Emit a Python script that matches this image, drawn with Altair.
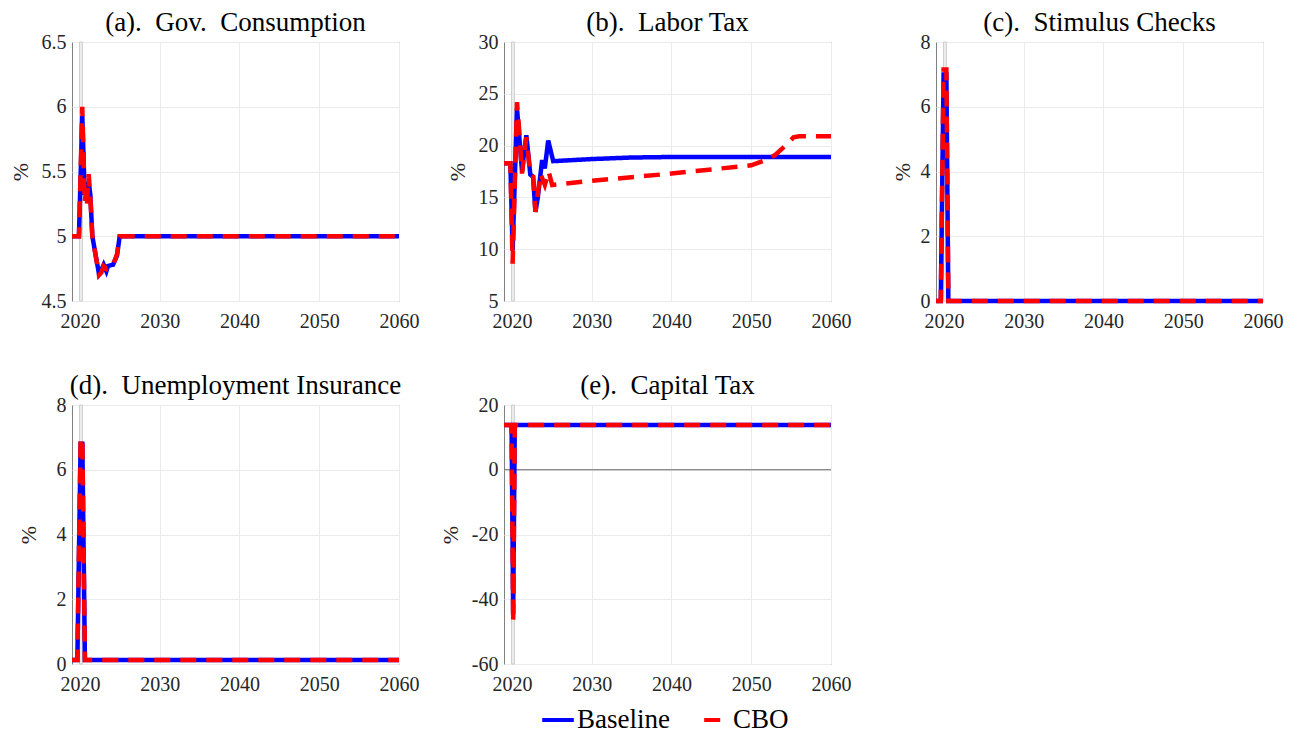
import altair as alt
import pandas as pd

PLOT_W, PLOT_H = 327, 259
SERIF = "Liberation Serif"

x_domain = [2019, 2060]
x_ticks = [2020, 2030, 2040, 2050, 2060]
band_start = [2019.95]
band_end = [2020.3]

# (a) Gov. Consumption
gov_years = [2019, 2019.87, 2020.29, 2020.59, 2020.79, 2020.88, 2021.09, 2021.3, 2021.55,
             2022.38, 2022.68, 2022.97, 2023.31, 2023.51, 2024.14, 2024.64, 2024.98, 2060]
gov_baseline = [5.0, 5.0, 5.93, 5.32, 5.4, 5.27, 5.42, 5.32, 5.0,
                4.71, 4.74, 4.78, 4.73, 4.77, 4.78, 4.85, 5.0, 5.0]
gov_cbo = [5.0, 5.0, 6.0, 5.26, 5.36, 5.25, 5.48, 5.3, 5.0,
           4.7, 4.72, 4.77, 4.75, 4.77, 4.78, 4.86, 5.0, 5.0]

# (b) Labor Tax
labor_years_base = [2019, 2019.8, 2020.08, 2020.63, 2021.26, 2021.47, 2021.8, 2022.3, 2022.65,
                    2022.94, 2023.24, 2023.78, 2024.12, 2024.54, 2025.17, 2030, 2035, 2040, 2060]
labor_baseline = [18.3, 18.3, 9.9, 23.6, 17.5, 19.0, 21.0, 17.2, 17.0,
                  13.6, 15.0, 18.6, 17.8, 20.5, 18.5, 18.7, 18.85, 18.9, 18.9]
labor_years_cbo = [2019, 2019.8, 2020.08, 2020.63, 2020.95, 2021.26, 2021.8, 2022.3, 2022.65,
                   2022.94, 2023.57, 2024.12, 2024.6, 2025.04, 2030, 2040, 2050, 2052,
                   2053, 2054.3, 2055.3, 2056, 2060]
labor_cbo = [18.3, 18.3, 8.6, 24.2, 21.0, 17.3, 20.8, 17.2, 17.0,
             13.6, 17.3, 16.2, 17.5, 16.2, 16.6, 17.3, 18.1, 18.65,
             19.1, 20.0, 20.8, 20.9, 20.9]

# (c) Stimulus Checks
stim_years = [2019, 2019.6, 2019.95, 2020.3, 2020.55, 2060]
stim_baseline = [0, 0, 7.0, 7.0, 0, 0]
stim_cbo = [0, 0, 7.15, 7.15, 0, 0]

# (d) Unemployment Insurance
ui_years = [2019, 2019.67, 2020.08, 2020.3, 2020.62, 2060]
ui_baseline = [0.12, 0.12, 6.8, 6.8, 0.12, 0.12]
ui_cbo = [0.12, 0.12, 6.97, 6.97, 0.12, 0.12]

# (e) Capital Tax
cap_years = [2019, 2019.95, 2020.15, 2020.35, 2060]
cap_baseline = [13.8, 13.8, -44.6, 13.8, 13.8]
cap_cbo = [13.8, 13.8, -47.2, 13.8, 13.8]


def panel_frame(base_years, base, cbo_years, cbo):
    return pd.concat([
        pd.DataFrame({"year": base_years, "value": base, "series": "Baseline"}),
        pd.DataFrame({"year": cbo_years, "value": cbo, "series": "CBO"}),
    ])


legend = alt.Legend(
    title=None, orient="none", legendX=468, legendY=660, direction="horizontal",
    symbolType="stroke", symbolStrokeWidth=4, symbolSize=1000, symbolDashOffset=20,
    labelFont=SERIF, labelFontSize=27, labelColor="black", labelOffset=1, columnPadding=20,
)
color = alt.Color("series:N", scale=alt.Scale(domain=["Baseline", "CBO"], range=["#0000ff", "#ff0000"]),
                  legend=legend)
dash = alt.StrokeDash("series:N", scale=alt.Scale(domain=["Baseline", "CBO"], range=[[1, 0], [16, 10]]),
                      legend=legend)
band_df = pd.DataFrame({"start": band_start, "end": band_end})


def make_panel(title, df, y_domain, y_ticks, extent, zero_line=False):
    x_scale = alt.Scale(domain=x_domain, nice=False, zero=False)
    x_axis = alt.Axis(values=x_ticks, title=None, labelExpr="datum.value + ''", labelPadding=10)
    y = alt.Y("value:Q", scale=alt.Scale(domain=y_domain, nice=False, zero=False),
              axis=alt.Axis(values=y_ticks, title="%", minExtent=extent, maxExtent=extent,
                            labelExpr="datum.value + ''"))

    band = alt.Chart(band_df).mark_rect(fill="#eeeeee", stroke="#cccccc", strokeWidth=1).encode(
        x=alt.X("start:Q", scale=x_scale, axis=x_axis), x2="end:Q")
    layers = [band]
    if zero_line:
        layers.append(alt.Chart(pd.DataFrame({"zero": [0]})).mark_rule(color="#666666", strokeWidth=1)
                      .encode(y=alt.Y("zero:Q")))
    for name in ["Baseline", "CBO"]:
        layers.append(
            alt.Chart(df[df["series"] == name]).mark_line(strokeWidth=4.5, strokeCap="butt").encode(
                x=alt.X("year:Q", scale=x_scale, axis=x_axis), y=y, color=color, strokeDash=dash,
                order="year:Q")
        )
    return alt.layer(*layers).properties(
        width=PLOT_W, height=PLOT_H,
        title=alt.TitleParams(title, frame="group", offset=-5),
    )


panel_a = make_panel("(a).\u00a0 Gov.\u00a0 Consumption",
                     panel_frame(gov_years, gov_baseline, gov_years, gov_cbo),
                     [4.5, 6.5], [4.5, 5, 5.5, 6, 6.5], 36)
panel_b = make_panel("(b).\u00a0 Labor Tax",
                     panel_frame(labor_years_base, labor_baseline, labor_years_cbo, labor_cbo),
                     [5, 30], [5, 10, 15, 20, 25, 30], 31)
panel_c = make_panel("(c).\u00a0 Stimulus Checks",
                     panel_frame(stim_years, stim_baseline, stim_years, stim_cbo),
                     [0, 8], [0, 2, 4, 6, 8], 18)
panel_d = make_panel("(d).\u00a0 Unemployment Insurance",
                     panel_frame(ui_years, ui_baseline, ui_years, ui_cbo),
                     [0, 8], [0, 2, 4, 6, 8], 28)
panel_e = make_panel("(e).\u00a0 Capital Tax",
                     panel_frame(cap_years, cap_baseline, cap_years, cap_cbo),
                     [-60, 20], [-60, -40, -20, 0, 20], 38, zero_line=True)

chart = (
    alt.concat(panel_a, panel_b, panel_c, panel_d, panel_e, columns=3,
               spacing={"row": 104, "column": 105}, bounds="flush")
    .properties(padding={"left": 0, "top": 0, "right": 5, "bottom": 5}, background="white")
    .configure_view(stroke="#808080", strokeWidth=1)
    .configure_axis(
        domain=False, ticks=False, grid=True, gridColor="#ebebeb", gridWidth=1,
        labelFlush=False, labelOverlap=False,
        labelFont=SERIF, labelFontSize=20, labelColor="#262626", labelPadding=6,
        titleFont=SERIF, titleFontSize=22, titleFontWeight="normal", titleColor="#262626", titlePadding=4,
    )
    .configure_title(font=SERIF, fontSize=27, fontWeight="normal", color="black", anchor="middle")
)

chart.save("out.html", embed_options={"renderer": "svg", "actions": False})
